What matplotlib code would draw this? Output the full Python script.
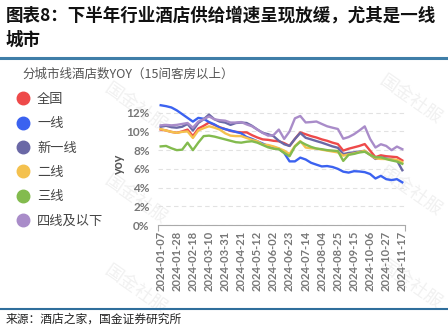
import matplotlib
matplotlib.use("Agg")
import matplotlib.pyplot as plt
from matplotlib.lines import Line2D

plt.rcParams['font.family'] = ['Noto Sans CJK SC', 'DejaVu Sans']

# weekly dates, 2024-01-07 .. 2024-11-17
dates = ['2024-01-07', '2024-01-14', '2024-01-21', '2024-01-28', '2024-02-04', '2024-02-11',
         '2024-02-18', '2024-02-25', '2024-03-03', '2024-03-10', '2024-03-17', '2024-03-24',
         '2024-03-31', '2024-04-07', '2024-04-14', '2024-04-21', '2024-04-28', '2024-05-05',
         '2024-05-12', '2024-05-19', '2024-05-26', '2024-06-02', '2024-06-09', '2024-06-16',
         '2024-06-23', '2024-06-30', '2024-07-07', '2024-07-14', '2024-07-21', '2024-07-28',
         '2024-08-04', '2024-08-11', '2024-08-18', '2024-08-25', '2024-09-01', '2024-09-08',
         '2024-09-15', '2024-09-22', '2024-09-29', '2024-10-06', '2024-10-13', '2024-10-20',
         '2024-10-27', '2024-11-03', '2024-11-10', '2024-11-17']

# hotel count YoY, %
quanguo = [10.2, 10.1, 9.95, 9.85, 10.0, 10.2, 9.5, 10.3, 10.6, 10.95, 10.7, 10.45, 10.25, 10.05,
           9.95, 9.9, 9.9, 9.6, 9.35, 9.15, 9.1, 9.0, 8.95, 8.75, 8.45, 9.2, 9.9, 9.7, 9.5, 9.35,
           9.15, 9.0, 8.8, 8.65, 7.95, 8.15, 8.3, 8.45, 8.65, 7.95, 7.25, 7.45, 7.35, 7.3, 7.25, 6.9]
yixian = [12.8, 12.7, 12.56, 12.25, 11.85, 11.45, 11.05, 11.45, 11.35, 11.0, 10.75, 10.4, 10.25,
          10.1, 9.95, 9.8, 9.4, 9.2, 8.95, 8.7, 8.45, 8.3, 8.15, 7.7, 6.8, 6.8, 7.2, 7.0, 6.65,
          6.45, 6.26, 6.3, 6.2, 6.0, 5.7, 5.6, 5.75, 5.72, 5.65, 5.45, 4.97, 5.25, 4.9, 4.8, 4.9, 4.56]
xinyixian = [10.5, 10.6, 10.45, 10.4, 10.5, 10.8, 10.1, 10.9, 11.3, 11.8, 11.3, 11.05, 10.95, 10.7,
             10.9, 10.95, 10.9, 10.6, 10.2, 9.85, 9.7, 9.5, 9.0, 8.63, 8.45, 9.2, 9.84, 9.32, 9.15,
             8.97, 8.8, 8.6, 8.4, 8.25, 7.58, 7.7, 7.76, 7.85, 7.93, 7.5, 7.06, 7.23, 7.1, 7.0, 6.9, 5.85]
erxian = [10.25, 10.1, 9.95, 9.85, 9.95, 10.0, 9.3, 10.1, 10.35, 10.55, 10.4, 10.2, 9.8, 9.55,
          9.5, 9.5, 9.3, 9.1, 8.95, 8.6, 8.55, 8.4, 8.2, 7.95, 7.58, 8.45, 8.97, 8.28, 8.2, 8.17,
          8.05, 7.95, 7.85, 7.76, 7.41, 7.55, 7.65, 7.8, 7.93, 7.5, 7.13, 7.06, 7.05, 7.0, 6.96, 6.71]
sanxian = [8.4, 8.45, 8.2, 8.0, 8.05, 8.8, 8.0, 8.8, 9.5, 9.55, 9.45, 9.3, 9.15, 9.0, 8.85, 8.8,
           8.9, 8.95, 8.8, 8.55, 8.3, 8.15, 8.1, 7.7, 7.35, 8.38, 8.9, 8.6, 8.35, 8.17, 8.1, 8.0,
           7.95, 7.9, 6.85, 7.5, 7.6, 7.75, 7.83, 7.5, 7.23, 7.23, 7.05, 6.9, 6.78, 6.54]
sixian = [10.65, 10.7, 10.65, 10.7, 10.8, 10.9, 10.4, 11.05, 11.3, 11.6, 11.3, 11.2, 11.15, 10.95,
          10.95, 11.0, 10.75, 10.55, 10.2, 9.84, 9.55, 9.6, 10.2, 9.2, 10.0, 11.4, 11.65, 10.96,
          11.0, 11.06, 10.8, 10.55, 10.4, 10.26, 9.22, 9.4, 9.7, 10.1, 10.54, 9.2, 8.28, 8.63,
          8.45, 8.0, 8.38, 8.1]

names = ['全国', '一线', '新一线', '二线', '三线', '四线及以下']
series = [quanguo, yixian, xinyixian, erxian, sanxian, sixian]
colors = ['#ee4a4a', '#3b62f0', '#6a68a6', '#f4c14e', '#83bb4e', '#a98cc9']

W, H = 448, 326
fig = plt.figure(figsize=(W / 100, H / 100), dpi=100)


def fx(px):
    return px / W


def fy(py):
    return 1 - py / H


# header
fig.text(fx(6), fy(16), '图表8：下半年行业酒店供给增速呈现放缓，尤其是一线',
         fontsize=12.6, fontweight='bold', va='center', ha='left', color='#111')
fig.text(fx(6), fy(40), '城市', fontsize=12.6, fontweight='bold', va='center', ha='left', color='#111')
fig.add_artist(Line2D([0, 1], [fy(58), fy(58)], color='#3f7ea8', lw=2.2, transform=fig.transFigure))

# watermarks
for wx, wy in [(135, 108), (135, 200), (135, 290), (410, 100), (410, 192), (410, 285)]:
    fig.text(fx(wx), fy(wy), '国金社服', fontsize=13, color='#f1f1f1', rotation=-35,
             ha='center', va='center', zorder=-5)

fig.text(fx(22), fy(74), '分城市线酒店数YOY（15间客房以上）', fontsize=9, color='#555',
         va='center', ha='left')

ax = fig.add_axes([fx(158), 101 / H, 247 / W, 131 / H])
ax.patch.set_alpha(0)
x = list(range(len(dates)))
for vals, c, n in zip(series, colors, names):
    ax.plot(x, vals, color=c, lw=1.7, label=n, solid_joinstyle='round')

ax.set_xlim(-0.5, len(dates) - 0.5)
ax.set_ylim(0, 14)
ax.set_yticks([0, 2, 4, 6, 8, 10, 12])
ax.set_yticklabels([f'{v}%' for v in [0, 2, 4, 6, 8, 10, 12]], family='Lato', fontweight='bold',
                   color='#777', fontsize=8.5)
ax.grid(axis='y', color='#e2e2e2', ls=(0, (4, 3)), lw=0.8)
ax.set_axisbelow(True)
ax.set_xticks(x[::3])
ax.set_xticklabels(dates[::3], rotation=90, family='Lato', fontweight='bold', color='#777', fontsize=8)
ax.set_xticks([-0.5, len(dates) - 0.5], minor=True)
ax.tick_params(axis='x', which='major', length=0, pad=4)
ax.tick_params(axis='x', which='minor', length=4, color='#aaa', width=0.8)
ax.tick_params(axis='y', length=0, pad=6)
for s in ['top', 'right', 'left']:
    ax.spines[s].set_visible(False)
ax.spines['bottom'].set_color('#aaa')
ax.spines['bottom'].set_linewidth(0.8)
ax.set_ylabel('yoy', family='Lato', fontweight='bold', color='#555', fontsize=9)
ax.yaxis.set_label_coords(-0.135, 0.47)

handles = [Line2D([], [], marker='o', ls='', color=c, markersize=9) for c in colors]
ax.legend(handles, names, loc='upper left', bbox_to_anchor=(fx(16), fy(93)),
          bbox_transform=fig.transFigure, frameon=False, fontsize=9.5, labelspacing=0.86,
          handletextpad=0.6, handlelength=1.0, labelcolor='#444', borderpad=0, borderaxespad=0)

fig.add_artist(Line2D([0, 1], [fy(309), fy(309)], color='#2f6e9c', lw=1.5, transform=fig.transFigure))
fig.text(fx(6), fy(313), '来源：酒店之家，国金证券研究所', fontsize=8.5, color='#222', va='top', ha='left')

fig.savefig('out.png', dpi=100, facecolor='white')
